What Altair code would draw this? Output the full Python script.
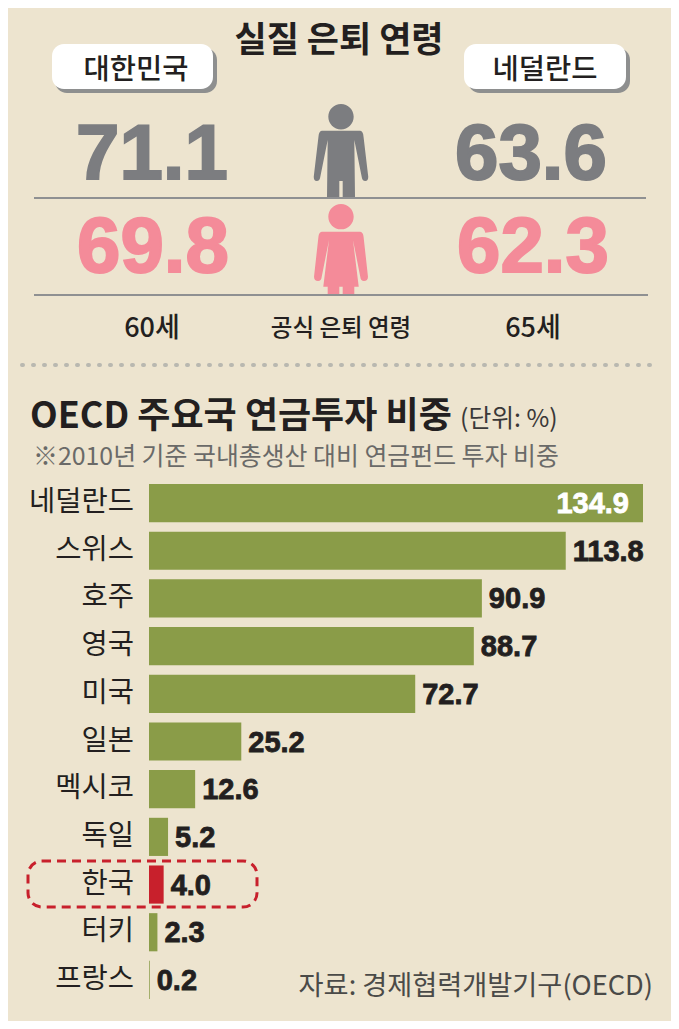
import altair as alt
import pandas as pd

countries = ["네덜란드", "스위스", "호주", "영국", "미국", "일본", "멕시코", "독일", "한국", "터키", "프랑스"]
shares = [134.9, 113.8, 90.9, 88.7, 72.7, 25.2, 12.6, 5.2, 4.0, 2.3, 0.2]
korea_ages = {"man": "71.1", "woman": "69.8", "official": "60세"}
dutch_ages = {"man": "63.6", "woman": "62.3", "official": "65세"}

BG = "#ede4cf"
GREEN = "#8a9c48"
RED = "#c8202c"
GREY = "#7c7d80"
PINK = "#f48b99"
INK = "#231f20"
KR = "Noto Sans CJK KR"
NUM = "Liberation Sans"
OFF = 8  # page margin: reference pixel -> chart pixel

MAN = ("M-.27,-.73a.27,.27 0 1,0 .54,0a.27,.27 0 1,0 -.54,0Z"
       "M-.41,-.43L.41,-.43Q.47,-.42 .48,-.30L.58,.547Q.58,.638 .517,.638Q.45,.638 .44,.547"
       "L.283,-.234L.298,.98L.036,.98L.036,.638L-.036,.638L-.036,.98L-.298,.98L-.283,-.234L-.44,.547"
       "Q-.45,.638 -.517,.638Q-.58,.638 -.58,.547L-.48,-.30Q-.47,-.42 -.41,-.43Z")
WOMAN = ("M-.27,-.71a.27,.27 0 1,0 .54,0a.27,.27 0 1,0 -.54,0Z"
         "M-.41,-.39L.41,-.39Q.47,-.38 .48,-.283L.574,.568Q.57,.66 .489,.66Q.42,.66 .41,.568"
         "L.255,-.213L.377,.78L.283,.78L.283,.936L.036,.936L.036,.78L-.036,.78L-.036,.936L-.283,.936L-.283,.78"
         "L-.377,.78L-.255,-.213L-.41,.568Q-.42,.66 -.489,.66Q-.57,.66 -.574,.568L-.48,-.283Q-.47,-.38 -.41,-.39Z")

one = alt.Data(values=[{"k": 0}])


def text(s, x, y, size, color=INK, weight="normal", font=KR, align="center", heavy=0):
    kw = {"stroke": color, "strokeWidth": heavy} if heavy else {}
    return alt.Chart(one).mark_text(text=s, fontSize=size, color=color, fontWeight=weight,
                                    font=font, align=align, baseline="alphabetic", **kw).encode(
        x=alt.value(x - OFF), y=alt.value(y - OFF))


def rule(x1, x2, y, color, width, dash=None, cap="butt"):
    kw = {"strokeDash": dash} if dash else {}
    return alt.Chart(one).mark_rule(color=color, strokeWidth=width, strokeCap=cap, **kw).encode(
        x=alt.value(x1 - OFF), x2=alt.value(x2 - OFF), y=alt.value(y - OFF))


def box(x1, x2, y1, y2, **kw):
    return alt.Chart(one).mark_rect(**kw).encode(
        x=alt.value(x1 - OFF), x2=alt.value(x2 - OFF), y=alt.value(y1 - OFF), y2=alt.value(y2 - OFF))


def icon(path, x, y, color):
    return alt.Chart(one).mark_point(shape=path, size=8836, filled=True, fill=color, opacity=1,
                                     strokeWidth=0).encode(x=alt.value(x - OFF), y=alt.value(y - OFF))


df = pd.DataFrame({"country": countries, "share": shares})
x_scale = alt.Scale(domain=[0, 134.9], range=[141, 635], nice=False)
y_scale = alt.Scale(domain=countries, range=[476, 991], paddingInner=0.2, paddingOuter=0)
X = alt.X("share:Q", scale=x_scale, axis=None)
Y = alt.Y("country:N", scale=y_scale, axis=None, sort=countries)

bars = alt.Chart(df).mark_bar().encode(
    x=X, y=Y,
    color=alt.condition(alt.datum.country == "한국", alt.value(RED), alt.value(GREEN)))
cat_labels = alt.Chart(df).mark_text(align="right", baseline="middle", fontSize=28.5, font=KR,
                                     color=INK, dy=-1).encode(
    x=alt.value(134 - OFF), y=Y, text="country:N")
val_out = alt.Chart(df).transform_filter(alt.datum.share < 130).mark_text(
    align="left", baseline="middle", fontSize=29, fontWeight="bold", font=NUM, color=INK,
    stroke=INK, strokeWidth=0.8, dx=7, dy=1).encode(
    x=X, y=Y, text=alt.Text("share:Q", format=".1f"))
val_in = alt.Chart(df).transform_filter(alt.datum.share >= 130).mark_text(
    align="right", baseline="middle", fontSize=29, fontWeight="bold", font=NUM, color="white",
    stroke="white", strokeWidth=0.8, dx=-14, dy=1).encode(
    x=X, y=Y, text=alt.Text("share:Q", format=".1f"))

layers = [
    text("실질 은퇴 연령", 339, 52, 35, weight="bold"),
    box(55, 217, 48, 93, fill="#8e8f8f", cornerRadius=12),
    box(52, 213, 44, 89, fill="white", cornerRadius=12),
    text("대한민국", 136, 79, 28.5, weight=500),
    box(468, 630, 48, 93, fill="#8e8f8f", cornerRadius=12),
    box(464, 626, 44, 89, fill="white", cornerRadius=12),
    text("네덜란드", 545, 79, 28.5, weight=500),
    text(korea_ages["man"], 152, 179, 78, GREY, "bold", NUM, heavy=2),
    text(dutch_ages["man"], 531, 179, 78, GREY, "bold", NUM, heavy=2),
    text(korea_ages["woman"], 153, 272, 78, PINK, "bold", NUM, heavy=2),
    text(dutch_ages["woman"], 533, 272, 78, PINK, "bold", NUM, heavy=2),
    icon(MAN, 341, 151, GREY),
    icon(WOMAN, 341, 250, PINK),
    rule(34, 646, 198, "#8f9092", 2),
    rule(34, 648, 295, "#8f9092", 2),
    text(korea_ages["official"], 152, 337, 27, weight=500),
    text("공식 은퇴 연령", 341, 336, 23.5, weight=500),
    text(dutch_ages["official"], 533, 337, 27, weight=500),
    rule(22, 660, 365, "#b9b8b0", 4, dash=[1, 10], cap="round"),
    text("OECD 주요국 연금투자 비중", 30, 428, 36, weight="bold", align="left"),
    text("(단위: %)", 460, 427, 24.8, "#3a3838", align="left"),
    text("※2010년 기준 국내총생산 대비 연금펀드 투자 비중", 33, 465, 24.9, "#6a6a68", align="left"),
    bars, cat_labels, val_out, val_in,
    box(28, 257, 861, 907, fill="transparent", stroke=RED, strokeWidth=3, strokeDash=[9, 6], cornerRadius=14),
    text("자료: 경제협력개발기구(OECD)", 653, 995, 27.2, "#4a4a48", align="right"),
]

chart = alt.layer(*layers).properties(
    width=663, height=1013, background=BG, padding=0,
    autosize=alt.AutoSizeParams(type="none")
).configure_view(stroke=None)

chart.save("out.html", embed_options={"renderer": "svg", "actions": False})
